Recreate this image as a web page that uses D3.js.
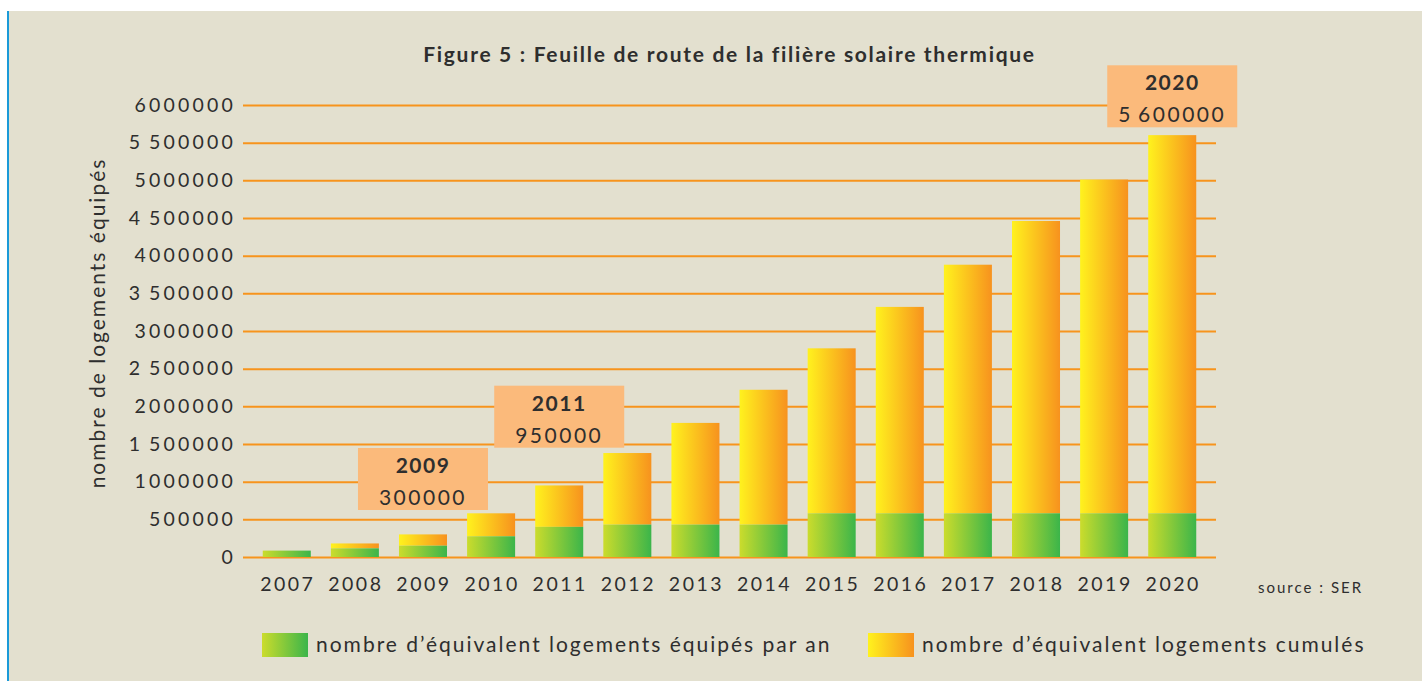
<!DOCTYPE html>
<html>
<head>
<meta charset="utf-8">
<script src="https://cdn.jsdelivr.net/npm/d3@7"></script>
<style>
  body { margin: 0; background: #fff; }
  text { font-family: Lato, "Open Sans", sans-serif; fill: #2e2e2e; }
</style>
</head>
<body>
<div id="chart"></div>
<script>
// data
const years = ["2007", "2008", "2009", "2010", "2011", "2012", "2013", "2014",
               "2015", "2016", "2017", "2018", "2019", "2020"];
const parAn = [85000, 115000, 150000, 275000, 400000, 430000, 430000, 430000,
               580000, 580000, 580000, 580000, 580000, 580000];
const cumules = [85000, 180000, 300000, 580000, 950000, 1380000, 1780000, 2220000,
                 2770000, 3320000, 3880000, 4460000, 5010000, 5600000];
const yTicks = [0, 500000, 1000000, 1500000, 2000000, 2500000, 3000000,
                3500000, 4000000, 4500000, 5000000, 5500000, 6000000];
const yTickLabels = ["0", "500000", "1000000", "1\u2009500000", "2000000", "2\u2009500000", "3000000",
                     "3\u2009500000", "4000000", "4\u2009500000", "5000000", "5\u2009500000", "6000000"];
// callouts: year, label, and the value at which the box sits
const calloutYears = ["2009", "2011", "2020"];
const calloutLabels = ["300000", "950000", "5\u2009600000"];
const calloutBase = [624000, 1451000, 5704000];

const legendLabels = ["nombre d\u2019\u00e9quivalent logements \u00e9quip\u00e9s par an",
                      "nombre d\u2019\u00e9quivalent logements cumul\u00e9s"];

const W = 1422, H = 681;
const plotLeft = 243, plotRight = 1216, plotTop = 105, plotBottom = 557;

const svg = d3.select("#chart").append("svg")
    .attr("width", W).attr("height", H);

// page background + blue margin rule
svg.append("rect").attr("x", 8).attr("y", 11).attr("width", W - 8).attr("height", H - 11)
    .attr("fill", "#e3e0cf");
svg.append("line").attr("x1", 8).attr("x2", 8).attr("y1", 11).attr("y2", H)
    .attr("stroke", "#1b9ad8").attr("stroke-width", 2);

const defs = svg.append("defs");
function grad(id, c0, c1) {
    const g = defs.append("linearGradient").attr("id", id)
        .attr("x1", "0%").attr("x2", "100%").attr("y1", "0%").attr("y2", "0%");
    g.append("stop").attr("offset", "0%").attr("stop-color", c0);
    g.append("stop").attr("offset", "100%").attr("stop-color", c1);
}
grad("gGreen", "#cbdc2c", "#3bb54a");
grad("gOrange", "#fff21e", "#f7921e");

const x = d3.scaleBand().domain(years).range([plotLeft, plotRight])
    .paddingInner(0.295).paddingOuter(0.29);
const y = d3.scaleLinear().domain([0, 6000000]).range([plotBottom, plotTop]);

// y axis with grid lines
const yAxis = svg.append("g")
    .attr("transform", `translate(${plotLeft},0)`)
    .call(d3.axisLeft(y)
        .tickValues(yTicks)
        .tickSize(-(plotRight - plotLeft))
        .tickPadding(7)
        .tickFormat((d, i) => yTickLabels[i]));
yAxis.select(".domain").remove();
yAxis.selectAll(".tick line").attr("stroke", "#f7941d").attr("stroke-width", 2);
yAxis.selectAll(".tick text")
    .attr("font-size", 19.5).attr("letter-spacing", 3.2)
    .attr("fill", "#2e2e2e").attr("font-family", "Lato, sans-serif");

// x axis
const xAxis = svg.append("g")
    .attr("transform", `translate(0,${plotBottom})`)
    .call(d3.axisBottom(x).tickSize(0).tickPadding(20));
xAxis.select(".domain").remove();
xAxis.selectAll(".tick text")
    .attr("font-size", 19.5).attr("letter-spacing", 2.5)
    .attr("dx", 1)
    .attr("fill", "#2e2e2e").attr("font-family", "Lato, sans-serif");

// stacked bars: green = per year, orange = rest of the cumulative total
const rows = years.map((yr, i) => ({ year: yr, an: parAn[i], cum: cumules[i] }));

svg.append("g").selectAll("rect.cum")
    .data(rows.filter(d => d.cum > d.an))
    .join("rect")
    .attr("class", "cum")
    .attr("x", d => x(d.year))
    .attr("width", x.bandwidth())
    .attr("y", d => y(d.cum))
    .attr("height", d => y(d.an) - y(d.cum))
    .attr("fill", "url(#gOrange)");

svg.append("g").selectAll("rect.an")
    .data(rows)
    .join("rect")
    .attr("class", "an")
    .attr("x", d => x(d.year))
    .attr("width", x.bandwidth())
    .attr("y", d => y(d.an))
    .attr("height", d => y(0) - y(d.an))
    .attr("fill", "url(#gGreen)");

// callout boxes
const boxW = 130, boxH = 62;
const callouts = svg.append("g").selectAll("g")
    .data(calloutYears.map((yr, i) => ({ year: yr, label: calloutLabels[i], base: calloutBase[i] })))
    .join("g")
    .attr("transform", d => `translate(${x(d.year) + x.bandwidth() / 2},${y(d.base)})`);
callouts.append("rect")
    .attr("x", -boxW / 2).attr("y", -boxH)
    .attr("width", boxW).attr("height", boxH)
    .attr("fill", "#fbba7b");
callouts.append("text")
    .attr("text-anchor", "middle").attr("y", -37)
    .attr("font-size", 21).attr("font-weight", "bold").attr("letter-spacing", 1.5)
    .text(d => d.year);
callouts.append("text")
    .attr("text-anchor", "middle").attr("y", -5)
    .attr("font-size", 21).attr("letter-spacing", 2.5)
    .text(d => d.label);

// title
svg.append("text")
    .attr("x", (plotLeft + plotRight) / 2).attr("y", 62)
    .attr("text-anchor", "middle")
    .attr("font-size", 21).attr("font-weight", "bold").attr("letter-spacing", 1.7)
    .text("Figure 5 : Feuille de route de la fili\u00e8re solaire thermique");

// y axis title
svg.append("text")
    .attr("transform", "translate(105,323) rotate(-90)")
    .attr("text-anchor", "middle")
    .attr("font-size", 21).attr("letter-spacing", 2)
    .text("nombre de logements \u00e9quip\u00e9s");

// source
svg.append("text")
    .attr("x", 1258).attr("y", 593)
    .attr("font-size", 15).attr("letter-spacing", 2)
    .text("source : SER");

// legend
const legend = svg.append("g").selectAll("g")
    .data(legendLabels)
    .join("g")
    .attr("transform", (d, i) => `translate(${i === 0 ? 262 : 868},633)`);
legend.append("rect")
    .attr("width", 46).attr("height", 24)
    .attr("fill", (d, i) => i === 0 ? "url(#gGreen)" : "url(#gOrange)");
legend.append("text")
    .attr("x", 54).attr("y", 19)
    .attr("font-size", 21).attr("letter-spacing", 2)
    .text(d => d);
</script>
</body>
</html>
